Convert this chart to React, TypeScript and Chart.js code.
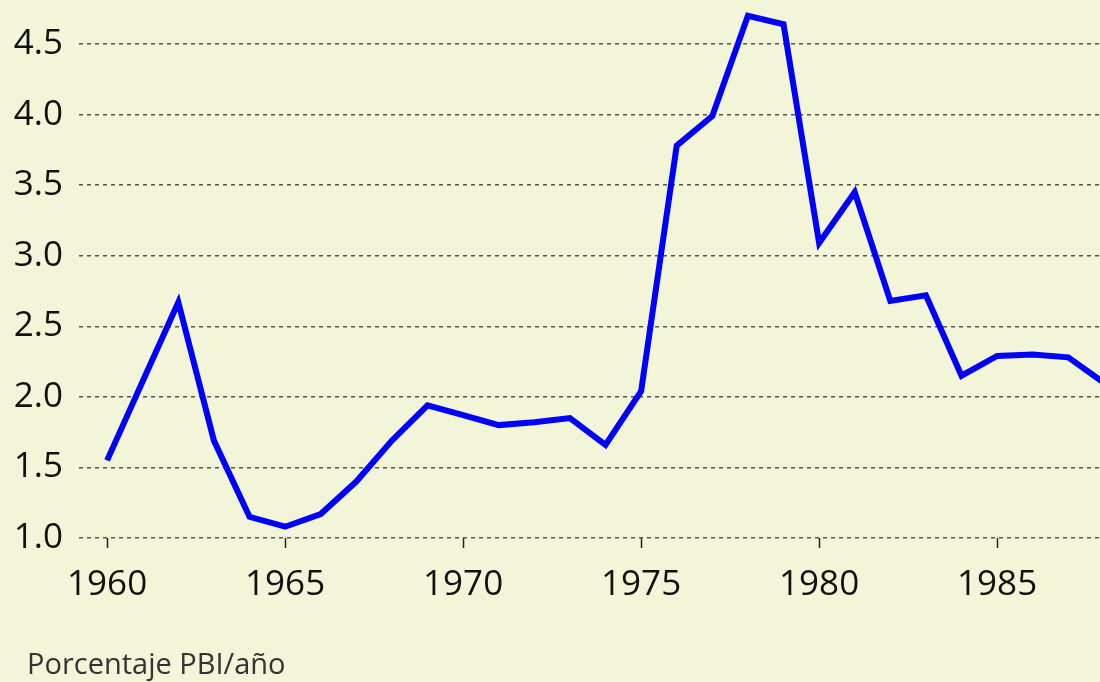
import React, { useEffect, useRef } from "react";
import { Chart, registerables } from "chart.js";

Chart.register(...registerables);

const years = [1960, 1961, 1962, 1963, 1964, 1965, 1966, 1967, 1968, 1969, 1970, 1971, 1972, 1973, 1974, 1975, 1976, 1977, 1978, 1979, 1980, 1981, 1982, 1983, 1984, 1985, 1986, 1987, 1988];
const values = [1.55, 2.11, 2.67, 1.69, 1.15, 1.08, 1.17, 1.40, 1.69, 1.94, 1.87, 1.80, 1.82, 1.85, 1.66, 2.04, 3.78, 3.99, 4.70, 4.64, 3.09, 3.45, 2.68, 2.72, 2.15, 2.29, 2.30, 2.28, 2.10];
const yTicks = [1.0, 1.5, 2.0, 2.5, 3.0, 3.5, 4.0, 4.5];
const xTicks = [1960, 1965, 1970, 1975, 1980, 1985];
const caption = "Porcentaje PBI/año";

const BG = "#f2f5d7";
const FONT = "'Open Sans', 'Noto Sans', sans-serif";

export default function App() {
  const ref = useRef<HTMLCanvasElement | null>(null);

  useEffect(() => {
    document.body.style.margin = "0";
    document.body.style.background = BG;
    const canvas = ref.current;
    if (!canvas) return;
    const chart = new Chart(canvas, {
      type: "line",
      data: {
        datasets: [
          {
            data: years.map((y, i) => ({ x: y, y: values[i] })),
            borderColor: "#0000ff",
            borderWidth: 6,
            borderJoinStyle: "miter",
            borderCapStyle: "butt",
            pointRadius: 0,
            tension: 0,
            fill: false,
            clip: false as any,
          },
        ],
      },
      options: {
        animation: false,
        responsive: false,
        maintainAspectRatio: false,
        layout: { padding: 0 },
        plugins: { legend: { display: false }, tooltip: { enabled: false }, title: { display: false } },
        scales: {
          x: {
            type: "linear",
            min: 1959.21,
            max: 1987.89,
            afterBuildTicks: (scale: any) => {
              scale.ticks = xTicks.map((v) => ({ value: v }));
            },
            afterFit: (scale: any) => {
              scale.height = 144;
              scale.paddingLeft = 0;
              scale.paddingRight = 0;
            },
            grid: {
              display: true,
              drawOnChartArea: false,
              drawTicks: true,
              tickLength: 10,
              tickColor: "#222",
              tickWidth: 1.5,
            },
            border: { display: false },
            ticks: {
              padding: 16,
              color: "#111",
              font: { family: FONT, size: 35 },
              maxRotation: 0,
              autoSkip: false,
              callback: (v: any) => String(v),
            },
          },
          y: {
            type: "linear",
            min: 1.0,
            max: 4.812,
            afterBuildTicks: (scale: any) => {
              scale.ticks = yTicks.map((v) => ({ value: v }));
            },
            afterFit: (scale: any) => {
              scale.width = 79;
              scale.paddingTop = 0;
              scale.paddingBottom = 0;
            },
            grid: {
              display: true,
              drawTicks: false,
              color: "#555",
              lineWidth: 1.5,
            },
            border: { display: false, dash: [4, 4] },
            ticks: {
              padding: 16,
              color: "#111",
              font: { family: FONT, size: 35 },
              autoSkip: false,
              callback: (v: any) => Number(v).toFixed(1),
            },
          },
        },
      },
    });
    return () => chart.destroy();
  }, []);

  return (
    <div style={{ position: "absolute", left: 0, top: 0, width: 1100, height: 682, background: BG, overflow: "hidden" }}>
      <canvas ref={ref} width={1100} height={682} style={{ position: "absolute", left: 0, top: 0, width: 1100, height: 682 }} />
      <div
        style={{
          position: "absolute",
          left: 27,
          top: 648,
          fontFamily: FONT,
          fontSize: 29,
          lineHeight: 1,
          color: "#333",
          whiteSpace: "nowrap",
        }}
      >
        {caption}
      </div>
    </div>
  );
}
